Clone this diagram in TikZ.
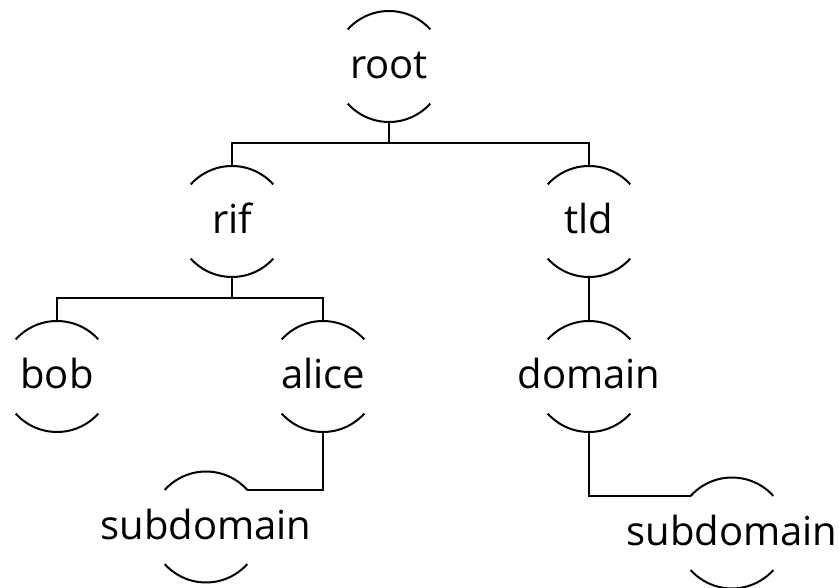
\documentclass[tikz,border=0pt]{standalone}
\usepackage{fontspec}
\setmainfont{Open Sans}
\begin{document}
\begin{tikzpicture}[x=1pt,y=-1pt,
  ring/.style={circle,minimum size=111pt,inner sep=0pt,outer sep=0pt},
  lbl/.style={anchor=base,inner sep=0pt,font=\fontsize{40}{48}\selectfont},
  edge/.style={line width=2pt,black}]
\useasboundingbox (0,0) rectangle (839,588);
% rings
\node[ring] (root)   at (389,66.5) {};
\node[ring] (rif)    at (232,221.5) {};
\node[ring] (tld)    at (589,221.5) {};
\node[ring] (bob)    at (57,376.5) {};
\node[ring] (alice)  at (323,376.5) {};
\node[ring] (domain) at (589,376.5) {};
\node[ring] (sub1)   at (206,527) {};
\node[ring] (sub2)   at (732,533) {};
\foreach \n in {root,rif,tld,bob,alice,domain,sub1,sub2}{
  \draw[edge] (\n.42) arc[start angle=42,end angle=138,radius=55.5pt];
  \draw[edge] (\n.222) arc[start angle=222,end angle=318,radius=55.5pt];
}
% labels
\node[lbl] (troot)   at ([yshift=-12pt]root.center)   {root};
\node[lbl] (trif)    at ([yshift=-12pt]rif.center)    {rif};
\node[lbl] (ttld)    at ([yshift=-12pt]tld.center)    {tld};
\node[lbl] (tbob)    at ([yshift=-12pt]bob.center)    {bob};
\node[lbl] (talice)  at ([yshift=-12pt]alice.center)  {alice};
\node[lbl] (tdomain) at ([yshift=-12pt]domain.center) {domain};
\node[lbl] (tsub1)   at ([yshift=-12pt]sub1.center)   {subdomain};
\node[lbl] (tsub2)   at ([yshift=-12pt]sub2.center)   {subdomain};
% connectors
\draw[edge] (root.south) -- ++(0,21) coordinate (j1);
\draw[edge] (j1) -| (rif.north);
\draw[edge] (j1) -| (tld.north);
\draw[edge] (rif.south) -- ++(0,21) coordinate (j2);
\draw[edge] (j2) -| (bob.north);
\draw[edge] (j2) -| (alice.north);
\draw[edge] (tld.south) -- (domain.north);
\draw[edge] (alice.south) |- (sub1.42);
\draw[edge] (domain.south) |- (sub2.138);
\end{tikzpicture}
\end{document}
